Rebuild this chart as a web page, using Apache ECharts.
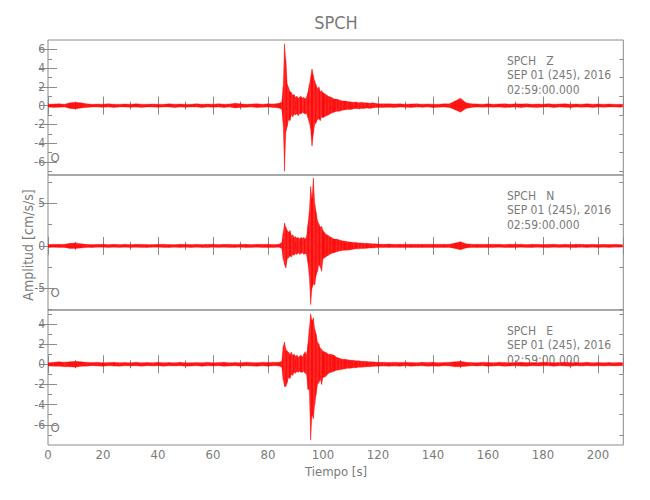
<!DOCTYPE html>
<html><head><meta charset="utf-8">
<script src="https://cdn.jsdelivr.net/npm/echarts@6/dist/echarts.min.js"></script>
<style>html,body{margin:0;padding:0;background:#fff}#c{width:650px;height:500px}</style>
</head><body><div id="c"></div><script>
// time sampling of envelope (s)
const timeS = [
 0,2,4,6,8,10,12,14,16,18,20,22,24,26,28,30,32,34,36,38,40,42,44,46,48,50,52,54,56,58,60,62,64,66,68,70,72,74,76,78,80,82,84,
 85,85.5,86,86.5,87,87.5,88,88.5,89,89.5,90,90.5,91,91.5,92,92.5,93,93.5,94,94.5,95,95.5,96,96.5,97,97.5,98,98.5,99,99.5,100,
 101,102,103,104,105,106,107,108,109,110,111,112,113,114,115,116,117,118,119,120,
 122,124,126,128,130,132,134,136,138,140,142,144,146,148,150,152,154,156,158,160,162,164,166,168,170,172,174,176,178,180,
 182,184,186,188,190,192,194,196,198,200,202,204,206,208,209
];
// Component Z: upper / lower envelope (cm/s/s)
const zHi = [
 0.15,0.18,0.2,0.15,0.3,0.35,0.3,0.2,0.15,0.18,
 0.15,0.2,0.15,0.15,0.18,0.15,0.2,0.15,0.15,0.18,
 0.15,0.15,0.2,0.15,0.18,0.15,0.15,0.2,0.15,0.18,
 0.15,0.2,0.15,0.18,0.25,0.2,0.15,0.18,0.2,0.15,
 0.2,0.18,0.25,
 0.4,2.0,6.6,4.8,2.3,1.9,1.5,1.4,1.1,1.2,
 0.9,1.0,0.8,0.9,1.0,0.8,0.9,0.7,0.9,1.4,
 2.2,3.0,3.9,3.2,2.6,2.2,1.8,2.0,1.5,1.6,
 1.4,
 1.2,1.0,0.9,0.7,0.7,0.6,0.5,0.5,0.45,0.4,0.35,0.4,0.3,0.35,0.3,0.3,0.25,0.3,0.25,0.2,
 0.2,0.2,0.18,0.2,0.15,0.18,0.2,0.15,0.18,0.15,
 0.15,0.2,0.2,0.5,0.8,0.3,0.2,0.18,0.15,0.2,
 0.15,0.18,0.2,0.15,0.2,0.18,0.2,0.15,0.18,0.15,
 0.2,0.15,0.18,0.2,0.15,0.18,0.15,0.2,0.15,0.18,
 0.15,0.18,0.15,0.15,0.15
];
const zLo = [
 -0.15,-0.2,-0.18,-0.15,-0.3,-0.35,-0.25,-0.2,-0.15,-0.15,
 -0.18,-0.15,-0.2,-0.15,-0.15,-0.18,-0.15,-0.2,-0.15,-0.15,
 -0.18,-0.15,-0.15,-0.2,-0.15,-0.18,-0.15,-0.15,-0.2,-0.15,
 -0.18,-0.15,-0.2,-0.15,-0.25,-0.2,-0.18,-0.15,-0.2,-0.18,
 -0.15,-0.2,-0.25,
 -0.4,-1.9,-7.0,-2.8,-2.2,-1.5,-1.6,-1.0,-1.2,-0.9,
 -1.0,-0.8,-1.1,-0.8,-0.9,-0.7,-0.8,-0.9,-0.8,-1.3,
 -1.8,-2.5,-4.3,-3.0,-2.0,-1.8,-1.5,-1.4,-1.6,-1.2,
 -1.3,
 -1.1,-1.0,-0.8,-0.7,-0.6,-0.6,-0.5,-0.45,-0.4,-0.4,-0.35,-0.3,-0.35,-0.3,-0.3,-0.25,-0.3,-0.25,-0.2,-0.2,
 -0.2,-0.18,-0.2,-0.15,-0.18,-0.2,-0.15,-0.18,-0.15,-0.2,
 -0.18,-0.15,-0.2,-0.45,-0.7,-0.3,-0.2,-0.15,-0.18,-0.15,
 -0.18,-0.15,-0.2,-0.18,-0.15,-0.2,-0.15,-0.18,-0.2,-0.15,
 -0.15,-0.2,-0.15,-0.18,-0.2,-0.15,-0.18,-0.15,-0.2,-0.15,
 -0.18,-0.15,-0.15,-0.18,-0.15
];
// Component N
const nHi = [
 0.15,0.2,0.18,0.2,0.3,0.35,0.25,0.2,0.15,0.18,
 0.2,0.15,0.18,0.15,0.2,0.15,0.18,0.2,0.15,0.15,
 0.18,0.2,0.15,0.15,0.2,0.18,0.15,0.2,0.15,0.18,
 0.2,0.15,0.18,0.2,0.15,0.2,0.18,0.15,0.2,0.18,
 0.2,0.15,0.2,
 0.4,1.5,2.7,2.2,1.8,1.6,1.8,1.2,1.3,1.0,
 1.1,0.9,1.0,0.8,1.0,0.9,1.0,0.8,1.1,2.5,
 4.0,7.0,5.5,8.0,5.0,4.0,3.0,2.6,2.2,2.3,
 1.8,
 1.4,1.2,1.0,0.8,0.8,0.7,0.6,0.55,0.5,0.45,0.4,0.4,0.35,0.35,0.3,0.3,0.28,0.25,0.25,0.22,
 0.2,0.22,0.18,0.2,0.2,0.18,0.2,0.18,0.2,0.18,
 0.2,0.18,0.2,0.35,0.5,0.25,0.2,0.18,0.2,0.18,
 0.2,0.18,0.15,0.2,0.18,0.2,0.15,0.18,0.2,0.15,
 0.18,0.2,0.15,0.18,0.15,0.2,0.18,0.15,0.18,0.15,
 0.18,0.15,0.18,0.15,0.15
];
const nLo = [
 -0.18,-0.15,-0.2,-0.18,-0.3,-0.3,-0.25,-0.18,-0.2,-0.15,
 -0.15,-0.2,-0.15,-0.18,-0.15,-0.2,-0.15,-0.18,-0.2,-0.15,
 -0.15,-0.18,-0.2,-0.15,-0.18,-0.15,-0.2,-0.15,-0.18,-0.2,
 -0.15,-0.18,-0.15,-0.2,-0.18,-0.15,-0.2,-0.18,-0.15,-0.2,
 -0.18,-0.2,-0.15,
 -0.3,-1.5,-2.2,-2.6,-1.5,-1.4,-1.2,-1.3,-1.0,-1.1,
 -0.9,-1.0,-0.8,-1.0,-0.9,-0.8,-1.0,-0.9,-1.0,-2.0,
 -3.5,-6.9,-5.0,-4.5,-4.6,-3.5,-3.0,-2.2,-2.5,-3.0,
 -1.5,
 -1.3,-1.1,-0.9,-0.8,-0.7,-0.6,-0.55,-0.5,-0.5,-0.45,-0.4,-0.35,-0.35,-0.3,-0.3,-0.28,-0.25,-0.25,-0.22,-0.2,
 -0.2,-0.18,-0.2,-0.2,-0.18,-0.2,-0.18,-0.2,-0.18,-0.2,
 -0.18,-0.2,-0.18,-0.3,-0.45,-0.25,-0.18,-0.2,-0.18,-0.2,
 -0.18,-0.15,-0.2,-0.18,-0.2,-0.15,-0.18,-0.2,-0.15,-0.18,
 -0.2,-0.15,-0.18,-0.15,-0.2,-0.18,-0.15,-0.18,-0.15,-0.18,
 -0.15,-0.18,-0.15,-0.15,-0.15
];
// Component E
const eHi = [
 0.15,0.2,0.25,0.2,0.25,0.3,0.25,0.2,0.18,0.2,
 0.15,0.18,0.2,0.15,0.18,0.15,0.2,0.15,0.18,0.15,
 0.2,0.15,0.18,0.15,0.2,0.15,0.15,0.18,0.15,0.2,
 0.15,0.18,0.2,0.15,0.18,0.15,0.2,0.18,0.15,0.2,
 0.18,0.2,0.2,
 0.3,1.75,2.2,1.5,1.3,1.2,1.0,1.2,0.9,1.0,
 0.8,0.9,0.7,0.8,0.9,0.7,1.0,1.25,0.9,2.0,
 3.5,5.0,4.3,4.6,3.5,3.0,2.2,2.0,1.6,1.5,
 1.3,
 1.2,1.0,1.0,0.9,0.7,0.6,0.5,0.5,0.45,0.4,0.4,0.35,0.35,0.3,0.3,0.28,0.25,0.25,0.22,0.2,
 0.2,0.18,0.2,0.18,0.2,0.18,0.15,0.2,0.18,0.2,
 0.15,0.18,0.2,0.25,0.3,0.2,0.18,0.15,0.2,0.18,
 0.15,0.2,0.18,0.15,0.18,0.2,0.15,0.18,0.15,0.2,
 0.18,0.15,0.18,0.2,0.15,0.18,0.15,0.2,0.15,0.18,
 0.15,0.18,0.15,0.18,0.15
];
const eLo = [
 -0.18,-0.2,-0.2,-0.25,-0.25,-0.3,-0.2,-0.2,-0.15,-0.18,
 -0.2,-0.15,-0.18,-0.2,-0.15,-0.18,-0.15,-0.2,-0.15,-0.18,
 -0.15,-0.2,-0.15,-0.18,-0.15,-0.2,-0.18,-0.15,-0.2,-0.15,
 -0.18,-0.15,-0.2,-0.18,-0.15,-0.2,-0.15,-0.18,-0.2,-0.15,
 -0.2,-0.15,-0.18,
 -0.3,-1.5,-2.2,-2.2,-1.8,-1.3,-1.4,-1.0,-1.1,-0.8,
 -0.9,-0.7,-0.8,-0.7,-0.8,-0.8,-0.7,-0.9,-1.0,-2.5,
 -2.5,-7.5,-5.0,-5.4,-4.0,-3.0,-2.0,-1.8,-1.5,-2.0,
 -1.3,
 -1.2,-0.9,-0.8,-0.7,-0.6,-0.55,-0.5,-0.45,-0.4,-0.4,-0.35,-0.35,-0.3,-0.3,-0.28,-0.25,-0.25,-0.22,-0.2,-0.2,
 -0.18,-0.2,-0.18,-0.2,-0.15,-0.2,-0.18,-0.15,-0.2,-0.18,
 -0.2,-0.15,-0.18,-0.25,-0.25,-0.2,-0.15,-0.18,-0.15,-0.2,
 -0.18,-0.15,-0.2,-0.18,-0.15,-0.18,-0.2,-0.15,-0.18,-0.15,
 -0.15,-0.2,-0.15,-0.18,-0.2,-0.15,-0.18,-0.15,-0.18,-0.15,
 -0.18,-0.15,-0.18,-0.15,-0.15
];
// axis extents and tick values
const xRange = [0, 209.2];
const yRangeZ = [-7.4, 7.0], yRangeN = [-7.55, 8.35], yRangeE = [-8.0, 5.38];
const yMajorZ = [-6,-4,-2,0,2,4,6], yMinorZ = [-7,-5,-3,-1,1,3,5];
const yMajorN = [-5,0,5], yMinorN = [-7.5,-2.5,2.5,7.5];
const yMajorE = [-6,-4,-2,0,2,4], yMinorE = [-7,-5,-3,-1,1,3,5];
const stationName = 'SPCH';
const compNames = ['Z','N','E'];
const dateText = 'SEP 01 (245), 2016';
const timeText = '02:59:00.000';

const FONT = "'Liberation Sans Narrow','DejaVu Sans Condensed','Liberation Sans',sans-serif";
const GRAY = '#8a8a8a', TXT = '#7a7a7a', RED = '#ff0000';
const panelTops = [40, 175, 310];
const panelH = 135;
const panels = [
  {hi: zHi, lo: zLo, range: yRangeZ, major: yMajorZ, minor: yMinorZ},
  {hi: nHi, lo: nLo, range: yRangeN, major: yMajorN, minor: yMinorN},
  {hi: eHi, lo: eLo, range: yRangeE, major: yMajorE, minor: yMinorE}
];
// band segment between sample i and i+1: [t0, hi0, lo0, t1, hi1, lo1]
function bandData(hi, lo) {
  const d = [];
  for (let i = 0; i < timeS.length - 1; i++) d.push([timeS[i], hi[i], lo[i], timeS[i + 1], hi[i + 1], lo[i + 1]]);
  return d;
}
function renderBand(params, api) {
  const pts = [
    api.coord([api.value(0), api.value(1)]),
    api.coord([api.value(3), api.value(4)]),
    api.coord([api.value(3), api.value(5)]),
    api.coord([api.value(0), api.value(2)])
  ];
  return {type: 'polygon', shape: {points: pts}, silent: true,
    style: {fill: RED, stroke: RED, lineWidth: 0.3, opacity: 0.92}};
}
const grid = [], xAxis = [], yAxis = [], series = [], graphic = [];
panels.forEach((p, g) => {
  grid.push({left: 48, right: 26.7, top: panelTops[g], height: panelH, show: true,
    borderColor: GRAY, borderWidth: 1, backgroundColor: 'transparent'});
  ['bottom', 'top'].forEach(pos => {
    xAxis.push({gridIndex: g, type: 'value', position: pos, min: xRange[0], max: xRange[1], interval: 20,
      axisLine: {show: false}, splitLine: {show: false},
      axisTick: {show: true, inside: true, length: 9, lineStyle: {color: GRAY}},
      minorTick: {show: true, splitNumber: 2, length: 4, lineStyle: {color: GRAY}},
      axisLabel: {show: pos === 'bottom' && g === 2, margin: 3, color: TXT, fontSize: 13, fontFamily: FONT,
        showMaxLabel: false}
    });
  });
  [['left', p.major, 9, true], ['right', p.major, 9, false], ['left', p.minor, 4, false], ['right', p.minor, 4, false]]
  .forEach(([pos, vals, len, lab]) => {
    yAxis.push({gridIndex: g, type: 'value', position: pos, min: p.range[0], max: p.range[1],
      axisLine: {show: false}, splitLine: {show: false},
      axisTick: {show: true, inside: true, length: len, customValues: vals, lineStyle: {color: GRAY}},
      axisLabel: {show: lab, customValues: vals, margin: 3, color: TXT, fontSize: 12, fontFamily: FONT}
    });
  });
  series.push({type: 'custom', xAxisIndex: g * 2, yAxisIndex: g * 4, clip: true, silent: true,
    data: bandData(p.hi, p.lo), encode: {x: [0, 3], y: [1, 2, 4, 5]}, renderItem: renderBand});
  const t = panelTops[g];
  const lines = [stationName + '   ' + compNames[g], dateText, timeText];
  lines.forEach((s, k) => graphic.push({type: 'text', style: {x: 507, y: t + 20.7 + k * 14.7, text: s,
    fill: TXT, fontSize: 12, fontFamily: FONT, align: 'left', verticalAlign: 'middle'}}));
  graphic.push({type: 'text', style: {x: 55, y: t + 117, text: 'O', fill: TXT, fontSize: 13,
    fontFamily: FONT, align: 'center', verticalAlign: 'middle'}});
});
graphic.push({type: 'text', style: {x: 336, y: 22.5, text: stationName, fill: TXT, fontSize: 18,
  fontFamily: FONT, align: 'center', verticalAlign: 'middle'}});
graphic.push({type: 'text', style: {x: 336, y: 471, text: 'Tiempo [s]', fill: TXT, fontSize: 13,
  fontFamily: FONT, align: 'center', verticalAlign: 'middle'}});
graphic.push({type: 'text', x: 28, y: 245, rotation: Math.PI / 2, style: {x: 0, y: 0, text: 'Amplitud [cm/s/s]',
  fill: TXT, fontSize: 14, fontFamily: FONT, align: 'center', verticalAlign: 'middle'}});

const chart = echarts.init(document.getElementById('c'), null, {renderer: 'svg'});
chart.setOption({animation: false, backgroundColor: '#fff', grid, xAxis, yAxis, series, graphic});
</script></body></html>
